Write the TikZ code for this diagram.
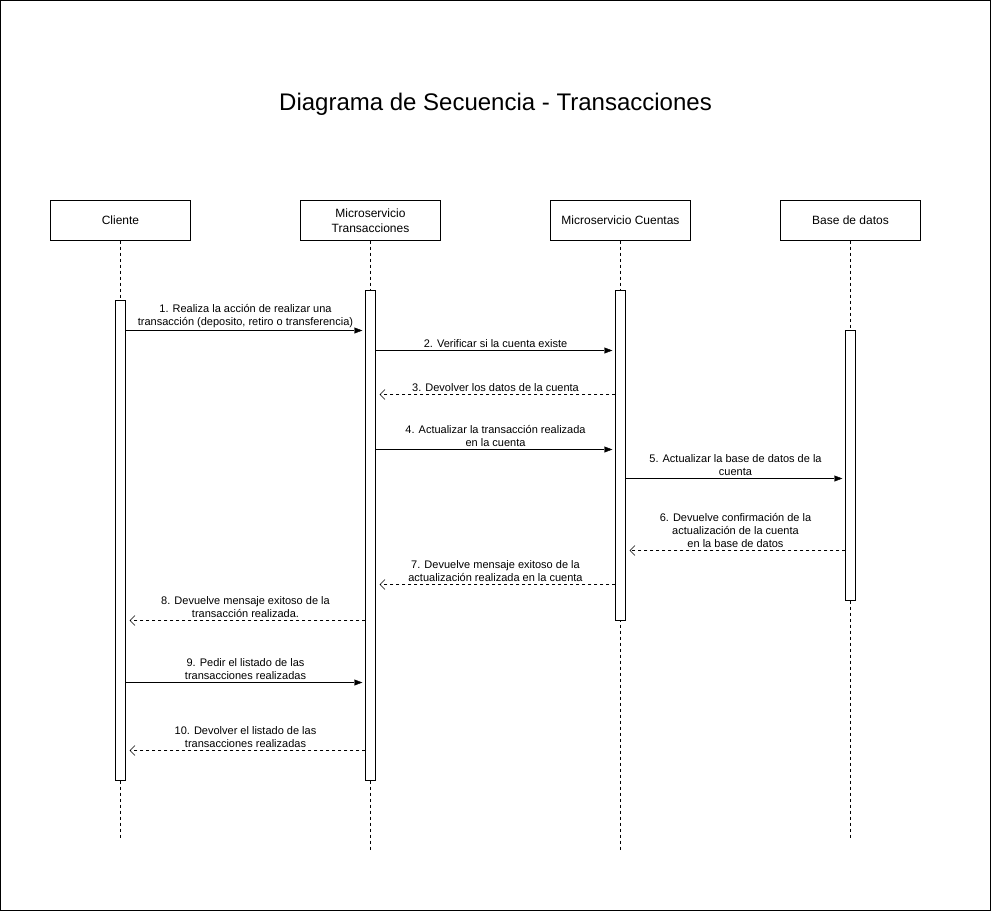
\documentclass[tikz,border=0pt]{standalone}
\usepackage{fontspec}
\setmainfont{Liberation Sans}
\usetikzlibrary{arrows.meta}
\begin{document}
\begin{tikzpicture}[x=1pt,y=-1pt]
\tikzstyle{every node}+=[inner sep=0pt]
\tikzstyle{actor}=[draw, minimum width=140, minimum height=40, align=center, font=\fontsize{12}{15}\selectfont]
\tikzstyle{bar}=[draw, fill=white, minimum width=10]
\tikzstyle{life}=[dash pattern=on 3pt off 3pt]
\tikzstyle{call}=[-{Triangle[length=8pt,width=6pt]}, shorten >=3pt]
\tikzstyle{back}=[dash pattern=on 3pt off 3pt, -{Straight Barb[length=5pt,width=10pt]}, shorten >=4pt]
\tikzstyle{lbl}=[above=3, align=center, font=\fontsize{11}{13}\selectfont]
\useasboundingbox (-0.5,-0.5) rectangle (990.5,910.5);
\draw (0,0) rectangle (990,910);
\node[font=\fontsize{24}{28}\selectfont] (title) at (495,104) {Diagrama de Secuencia - Transacciones};
\node[actor] (cli) at (120,220) {Cliente};
\node[actor] (tra) at (370,220) {Microservicio\\Transacciones};
\node[actor] (cue) at (620,220) {Microservicio Cuentas};
\node[actor] (bd) at (850,220) {Base de datos};
\coordinate (cliE) at (120,838);
\coordinate (traE) at (370,850);
\coordinate (cueE) at (620,850);
\coordinate (bdE) at (850,838);
\draw[life] (cli) -- (cliE);
\draw[life] (tra) -- (traE);
\draw[life] (cue) -- (cueE);
\draw[life] (bd) -- (bdE);
\node[bar, minimum height=480] (cliA) at (120,540) {};
\node[bar, minimum height=490] (traA) at (370,535) {};
\node[bar, minimum height=330] (cueA) at (620,455) {};
\node[bar, minimum height=270] (bdA) at (850,465) {};
\draw[call] (cliA.east |- 0,330) -- (traA.west |- 0,330) node[lbl, midway] {1. Realiza la acción de realizar una\\transacción (deposito, retiro o transferencia)};
\draw[call] (traA.east |- 0,350) -- (cueA.west |- 0,350) node[lbl, midway] {2. Verificar si la cuenta existe};
\draw[back] (cueA.west |- 0,394) -- (traA.east |- 0,394) node[lbl, midway] {3. Devolver los datos de la cuenta};
\draw[call] (traA.east |- 0,449) -- (cueA.west |- 0,449) node[lbl, midway] {4. Actualizar la transacción realizada\\en la cuenta};
\draw[call] (cueA.east |- 0,478) -- (bdA.west |- 0,478) node[lbl, midway] {5. Actualizar la base de datos de la\\cuenta};
\draw[back] (bdA.west |- 0,550) -- (cueA.east |- 0,550) node[lbl, midway] {6. Devuelve confirmación de la\\actualización de la cuenta\\en la base de datos};
\draw[back] (cueA.west |- 0,584) -- (traA.east |- 0,584) node[lbl, midway] {7. Devuelve mensaje exitoso de la\\actualización realizada en la cuenta};
\draw[back] (traA.west |- 0,620) -- (cliA.east |- 0,620) node[lbl, midway] {8. Devuelve mensaje exitoso de la\\transacción realizada.};
\draw[call] (cliA.east |- 0,682) -- (traA.west |- 0,682) node[lbl, midway] {9. Pedir el listado de las\\transacciones realizadas};
\draw[back] (traA.west |- 0,750) -- (cliA.east |- 0,750) node[lbl, midway] {10. Devolver el listado de las\\transacciones realizadas};
\end{tikzpicture}
\end{document}
